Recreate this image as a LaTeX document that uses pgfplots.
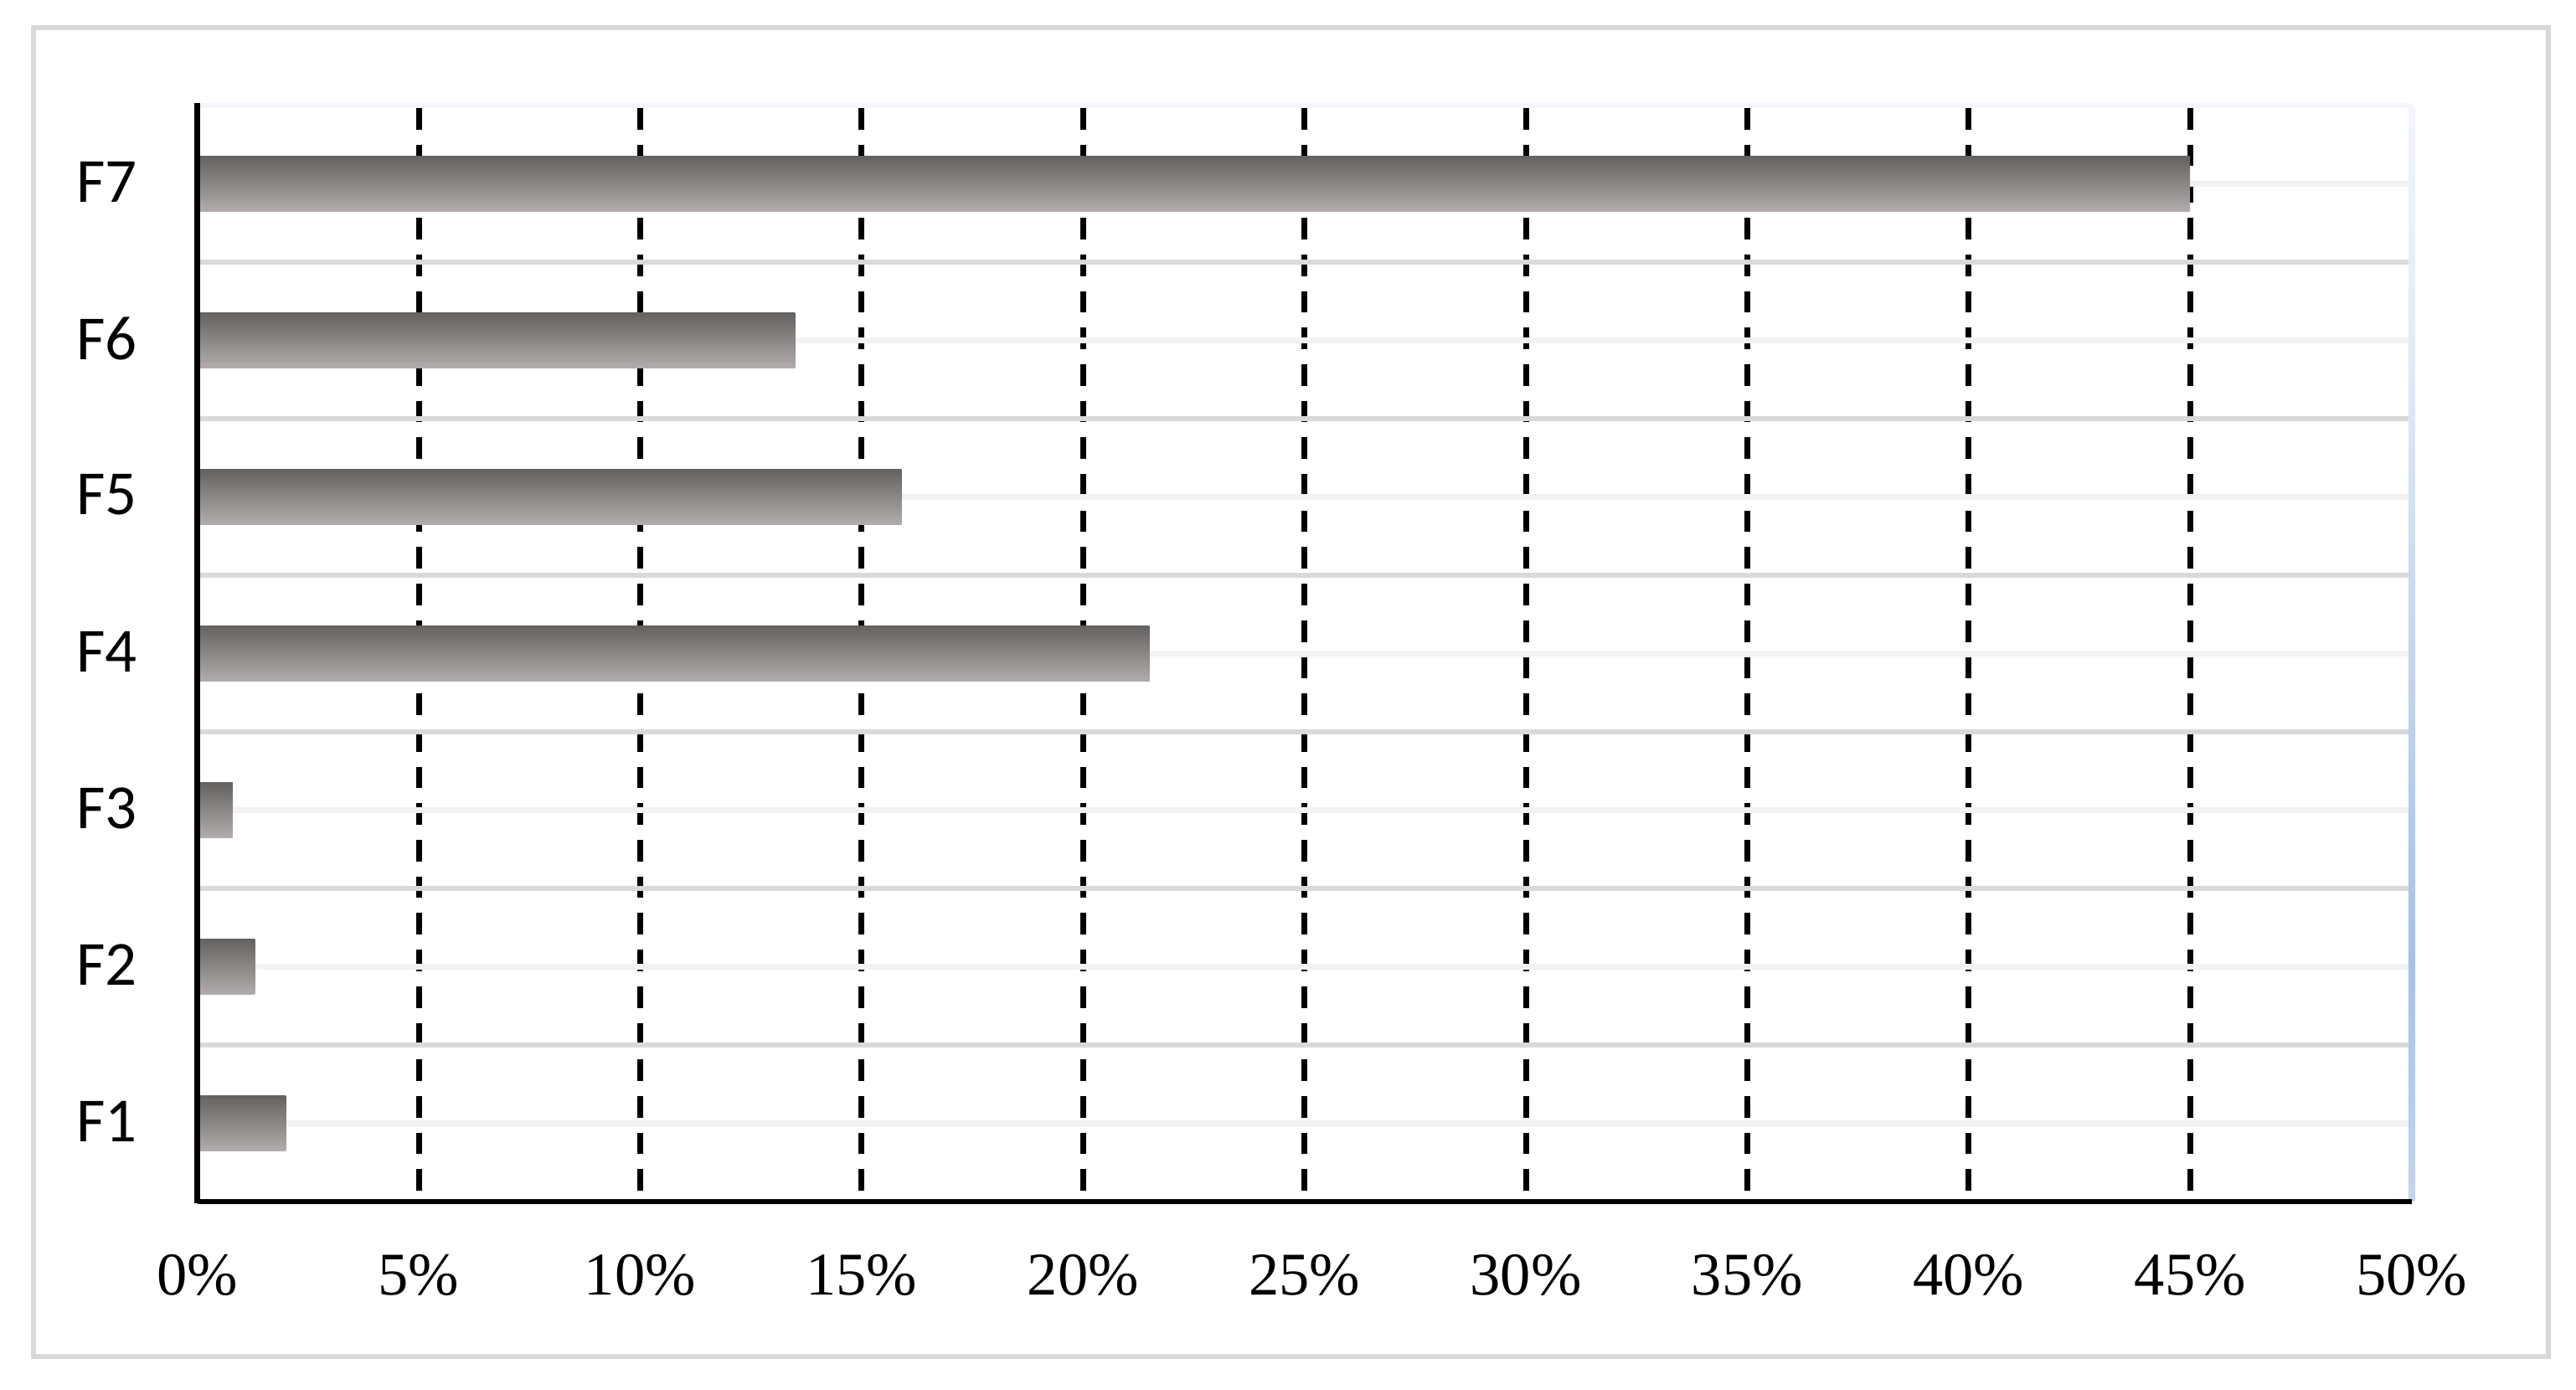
\documentclass[border=0pt]{standalone}
\usepackage{pgfplots}
\pgfplotsset{compat=1.18}
\usepackage{fontspec}
\setmainfont{Liberation Serif}
\newfontfamily\carlito{Carlito}
\definecolor{barTop}{HTML}{646260}
\definecolor{barBot}{HTML}{B2ADAC}
\definecolor{gridA}{HTML}{D9D9D9}
\definecolor{gridB}{HTML}{F2F2F2}
\definecolor{topLine}{HTML}{F4F6FB}
\definecolor{frameC}{HTML}{D9D9D9}
\definecolor{rlBot}{HTML}{C3D6EF}
\definecolor{rlDark}{HTML}{A4C2E8}
\definecolor{rlMid}{HTML}{E3EBF6}
\definecolor{rlTop}{HTML}{F3F6FB}
\pgfdeclareverticalshading{rightline}{100bp}{color(0bp)=(rlBot); color(25bp)=(rlBot); color(36bp)=(rlDark); color(64bp)=(rlMid); color(75bp)=(rlTop); color(100bp)=(rlTop)}

\begin{document}
\begin{tikzpicture}
\path[use as bounding box] (0,0) rectangle (615.2pt,331.8pt);
\draw[frameC, line width=1.1pt] (8pt,7.8pt) rectangle (608.6pt,325.2pt);
\begin{axis}[
  at={(47.12pt,44.8pt)}, anchor=south west,
  scale only axis, width=528.8pt, height=261.8pt,
  xmin=0, xmax=50, ymin=0.5, ymax=7.5,
  axis line style={draw=none},
  tick style={draw=none},
  major tick length=0pt,
  xtick={0,5,...,50},
  xticklabels={0\%,5\%,10\%,15\%,20\%,25\%,30\%,35\%,40\%,45\%,50\%},
  ytick={1,...,7},
  yticklabels={F1,F2,F3,F4,F5,F6,F7},
  xticklabel style={font=\fontsize{14.5pt}{14.5pt}\selectfont, anchor=center, inner sep=0pt, yshift=-17.5pt},
  yticklabel style={font=\carlito\fontsize{15pt}{15pt}\selectfont, anchor=east, inner sep=0pt, xshift=-14.2pt, yshift=0.5pt},
  clip=false,
  gbar/.style={xbar, bar width=13.2pt, bar shift=0pt, draw=none, top color=barTop, bottom color=barBot, forget plot},
]
% vertical dashed gridlines
\pgfplotsinvokeforeach{5,10,15,20,25,30,35,40,45}{
  \draw[black, line width=1.4pt, dash pattern=on 5.14pt off 3.6pt, dash phase=8.14pt] (axis cs:#1,7.5) -- (axis cs:#1,0.5);
}
% horizontal gridlines
\pgfplotsinvokeforeach{1,2,3,4,5,6,7}{
  \draw[gridB, line width=1.34pt] (axis cs:0,#1) -- (axis cs:50,#1);
}
\pgfplotsinvokeforeach{1.5,2.5,3.5,4.5,5.5,6.5}{
  \draw[gridA, line width=1.34pt] (axis cs:0,#1) -- (axis cs:50,#1);
}
\draw[topLine, line width=1.34pt] (axis cs:0,7.5) -- (axis cs:50,7.5);
% bars (one path each so that each bar gets its own gradient)
\addplot[gbar] coordinates {(2.0,1)};
\addplot[gbar] coordinates {(1.3,2)};
\addplot[gbar] coordinates {(0.8,3)};
\addplot[gbar] coordinates {(21.5,4)};
\addplot[gbar] coordinates {(15.9,5)};
\addplot[gbar] coordinates {(13.5,6)};
\addplot[gbar] coordinates {(45.0,7)};
% axis lines
\shade[shading=rightline] ([xshift=-0.75pt]axis cs:50,0.5) rectangle ([xshift=0.75pt]axis cs:50,7.5);
\draw[black, line width=1.15pt] (axis cs:0,0.5) -- (axis cs:50,0.5);
\draw[black, line width=1.5pt] ([yshift=-0.5pt]axis cs:0,0.5) -- ([yshift=0.6pt]axis cs:0,7.5);
\end{axis}
\end{tikzpicture}
\end{document}
